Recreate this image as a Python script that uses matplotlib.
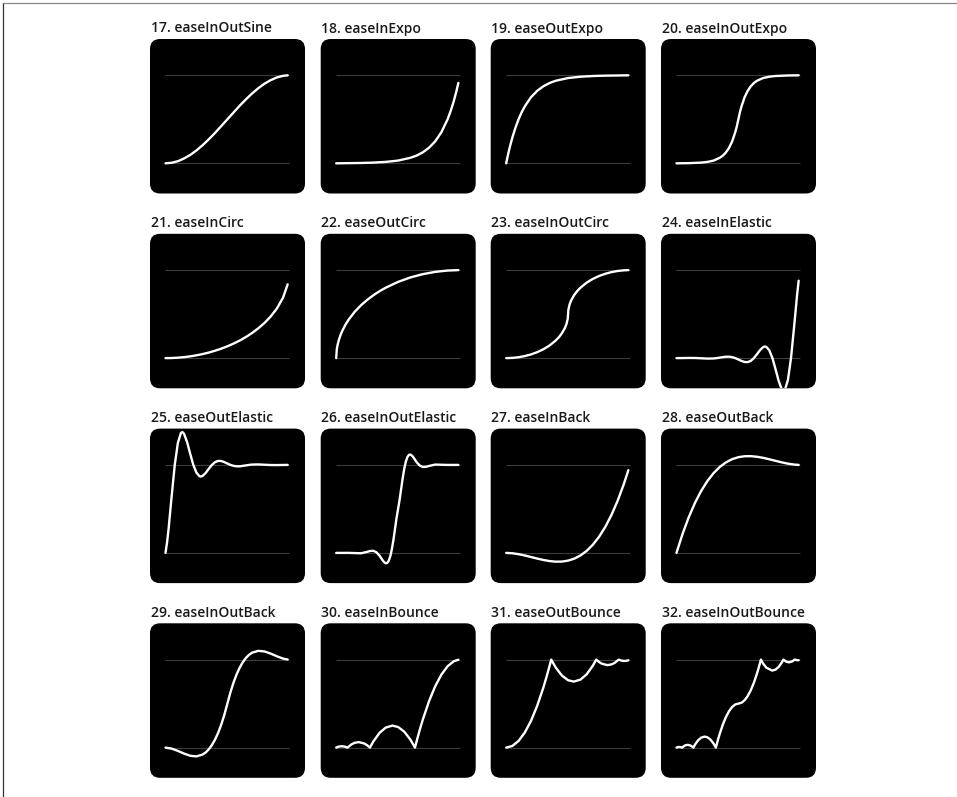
import matplotlib
matplotlib.use("Agg")
import matplotlib.pyplot as plt
from matplotlib.patches import FancyBboxPatch
from matplotlib.lines import Line2D

# panel titles, in reading order
titles = ["17. easeInOutSine", "18. easeInExpo", "19. easeOutExpo", "20. easeInOutExpo",
          "21. easeInCirc", "22. easeOutCirc", "23. easeInOutCirc", "24. easeInElastic",
          "25. easeOutElastic", "26. easeInOutElastic", "27. easeInBack", "28. easeOutBack",
          "29. easeInOutBack", "30. easeInBounce", "31. easeOutBounce", "32. easeInOutBounce"]

t_inoutsine = [0, .05, .1, .15, .2, .25, .3, .35, .4, .45, .5, .55, .6, .65, .7, .75, .8, .85, .9, .95, .987]
y_inoutsine = [0, .006, .024, .055, .095, .146, .206, .273, .345, .422, .5, .578, .655, .727, .794, .854, .905, .945, .976, .994, 1.0]

t_inexpo = [0, .1, .2, .3, .4, .5, .6, .65, .7, .75, .8, .85, .9, .925, .95, .97, .987]
y_inexpo = [0, .002, .004, .008, .016, .031, .063, .088, .125, .177, .25, .354, .5, .595, .707, .812, .914]

t_outexpo = [0, .015, .03, .05, .075, .1, .125, .15, .2, .25, .3, .35, .4, .5, .6, .7, .8, .9, .987]
y_outexpo = [0, .099, .188, .293, .405, .5, .58, .646, .75, .823, .875, .912, .938, .969, .984, .992, .996, .998, 1.0]

t_inoutexpo = [0, .1, .2, .25, .3, .35, .375, .4, .425, .45, .475, .4875, .5, .5125, .525, .55, .575, .6, .625, .65, .7, .75, .8, .9, .987]
y_inoutexpo = [0, .002, .008, .016, .031, .063, .088, .125, .177, .25, .354, .42, .5, .58, .646, .75, .823, .875, .912, .938, .969, .984, .992, .998, 1.0]

t_incirc = [0, .05, .1, .15, .2, .25, .3, .35, .4, .45, .5, .55, .6, .65, .7, .75, .8, .85, .9, .95, .987]
y_incirc = [0, .001, .005, .011, .02, .032, .046, .063, .084, .107, .134, .165, .2, .24, .286, .339, .4, .473, .564, .688, .839]

t_outcirc = [0, .005, .01, .02, .035, .05, .075, .1, .15, .2, .25, .3, .35, .4, .5, .6, .7, .8, .9, .987]
y_outcirc = [0, .1, .141, .199, .262, .312, .38, .436, .527, .6, .661, .714, .76, .8, .866, .917, .954, .98, .995, 1.0]

t_inoutcirc = [0, .05, .1, .15, .2, .25, .3, .35, .4, .425, .45, .475, .4875, .4975, .5, .5025, .5125, .525, .55, .575, .6, .65, .7, .75, .8, .85, .9, .95, .987]
y_inoutcirc = [0, .0025, .0101, .023, .0418, .067, .1, .143, .2, .236, .282, .344, .389, .45, .5, .55, .611, .656, .718, .764, .8, .857, .9, .933, .958, .977, .99, .9975, 1.0]

t_inelastic = [0, .05, .1, .15, .2, .25, .3, .325, .35, .375, .4, .425, .45, .475, .5, .525, .55, .575, .6, .625, .65, .675, .7, .7125, .725, .75, .775, .8, .825, .85, .8625, .875, .9, .925, .95, .975, .987]
y_inelastic = [0, .0007, .002, .0014, -.002, -.0055, -.0039, 0, .0055, .0114, .0156, .0161, .011, 0, -.0156, -.0322, -.0442, -.0455, -.0313, 0, .0442, .091, .125, .1317, .1288, .0884, 0, -.125, -.2575, -.3536, -.3725, -.3641, -.25, 0, .3536, .7282, .88]

t_outelastic = [0, .013, .025, .05, .075, .1, .125, .1375, .15, .175, .2, .225, .25, .275, .2875, .3, .325, .35, .375, .4, .425, .45, .475, .5, .525, .55, .575, .6, .625, .65, .675, .7, .75, .8, .85, .9, .95, .987]
y_outelastic = [0, .12, .272, .646, 1.0, 1.25, 1.364, 1.3725, 1.354, 1.2575, 1.125, 1.0, .912, .871, .868, .875, .909, .956, 1.0, 1.031, 1.0455, 1.0442, 1.032, 1.0156, 1.0, .989, .984, .984, .989, .9945, 1.0, 1.0039, 1.0055, 1.002, .9986, .998, .9993, 1.0]

t_inoutelastic = [0, .1, .2, .25, .275, .3, .325, .35, .375, .3875, .4, .4125, .425, .4375, .45, .4625, .475, .4875, .5, .5125, .525, .5375, .55, .5625, .575, .5875, .6, .6125, .625, .65, .675, .7, .725, .75, .8, .9, .987]
y_inoutelastic = [0, .0003, -.0039, .012, .0221, .0239, .0077, -.0313, -.0831, -.1051, -.1175, -.1139, -.0884, -.0365, .0434, .1487, .2708, .3951, .5, .6049, .7292, .8513, .9566, 1.0365, 1.0884, 1.1139, 1.1175, 1.1051, 1.0831, 1.0313, .9923, .9761, .9779, .988, 1.0039, .9997, 1.0]

t_inback = [0, .05, .1, .15, .2, .25, .3, .35, .4, .45, .5, .55, .6, .65, .7, .75, .8, .85, .9, .95, .987]
y_inback = [0, -.0039, -.0143, -.0292, -.0465, -.0641, -.0802, -.0926, -.0994, -.0984, -.0877, -.0653, -.029, .023, .0929, .1826, .2942, .4297, .5912, .7806, .94]

t_outback = [0, .05, .1, .15, .2, .25, .3, .35, .4, .45, .5, .55, .6, .65, .7, .75, .8, .85, .9, .95, .987]
y_outback = [0, .2194, .4088, .5703, .7058, .8174, .9071, .977, 1.029, 1.0653, 1.0877, 1.0984, 1.0994, 1.0926, 1.0802, 1.0641, 1.0465, 1.0292, 1.0143, 1.0039, 1.0003]

t_inoutback = [0, .05, .1, .15, .2, .25, .3, .325, .35, .375, .4, .425, .45, .475, .5, .525, .55, .575, .6, .625, .65, .675, .7, .75, .8, .85, .9, .95, .987]
y_inoutback = [0, -.0112, -.0375, -.0682, -.0926, -.0997, -.0788, -.0546, -.0192, .0285, .0899, .1664, .2594, .3701, .5, .6299, .7406, .8336, .9101, .9715, 1.0192, 1.0546, 1.0788, 1.0997, 1.0926, 1.0682, 1.0375, 1.0112, 1.0008]

t_inbounce = [0, .013, .025, .0455, .07, .0909, .125, .15, .1818, .2273, .25, .2727, .3, .35, .4, .4545, .5, .55, .6, .6364, .65, .675, .7, .75, .8, .85, .9, .95, .987]
y_inbounce = [0, .0077, .0125, .0156, .0111, 0, .0381, .0548, .0625, .0469, .0273, 0, .0694, .1673, .2275, .25, .2344, .1811, .09, 0, .0736, .2012, .3194, .5273, .6975, .8298, .9244, .9811, .9987]

t_outbounce = [0, .05, .1, .15, .2, .25, .3, .325, .35, .3636, .4, .45, .5, .5455, .6, .65, .7, .7273, .75, .7727, .8182, .85, .875, .9091, .93, .9545, .975, .987]
y_outbounce = [0, .0189, .0756, .1702, .3025, .4727, .6806, .7988, .9264, 1.0, .91, .8189, .7656, .75, .7725, .8327, .9306, 1.0, .9727, .9531, .9375, .9452, .9619, 1.0, .9889, .9844, .9875, .9923]

t_inoutbounce = [0, .0125, .0227, .035, .0455, .0625, .075, .0909, .1136, .125, .1364, .15, .175, .2, .2273, .25, .275, .3, .3182, .325, .3375, .35, .375, .4, .425, .45, .475, .5,
                 .525, .55, .575, .6, .625, .65, .6625, .675, .6818, .7, .725, .7727, .8, .825, .85, .8636, .8864, .9091, .9375, .9545, .9773, .987]
y_inoutbounce = [0, .0063, .0078, .0056, 0, .0191, .0274, .0313, .0234, .0137, 0, .0347, .0837, .1138, .125, .1172, .0906, .045, 0, .0368, .1006, .1597, .2637, .3488, .4149, .4622, .4906, .5,
                 .5095, .5378, .5851, .6513, .7364, .8403, .8994, .9632, 1.0, .955, .9095, .875, .8863, .9164, .9653, 1.0, .9766, .9688, .981, 1.0, .9922, .9936]

curves = [(t_inoutsine, y_inoutsine), (t_inexpo, y_inexpo), (t_outexpo, y_outexpo), (t_inoutexpo, y_inoutexpo),
          (t_incirc, y_incirc), (t_outcirc, y_outcirc), (t_inoutcirc, y_inoutcirc), (t_inelastic, y_inelastic),
          (t_outelastic, y_outelastic), (t_inoutelastic, y_inoutelastic), (t_inback, y_inback), (t_outback, y_outback),
          (t_inoutback, y_inoutback), (t_inbounce, y_inbounce), (t_outbounce, y_outbounce), (t_inoutbounce, y_inoutbounce)]

# layout, in pixels of the 957x797 picture
W, H = 957, 797
col_left = [150, 320.7, 490.7, 661]
row_top = [39, 233.8, 428.6, 623.3]
pw, ph = 155, 154.5

fig = plt.figure(figsize=(W / 100, H / 100), dpi=100)
fig.patch.set_facecolor("white")

# thin frame on the left and top edges
fig.add_artist(Line2D([2.5 / W, 2.5 / W], [0, 1 - 3 / H], color="#333333", lw=0.9))
fig.add_artist(Line2D([2.5 / W, 1], [1 - 3 / H, 1 - 3 / H], color="#888888", lw=0.9))

for i, (title, (t, y)) in enumerate(zip(titles, curves)):
    r, c = divmod(i, 4)
    x0 = col_left[c]
    y0 = row_top[r]
    ax = fig.add_axes([x0 / W, 1 - (y0 + ph) / H, pw / W, ph / H])
    ax.set_xlim(-0.125, 1.127)
    ax.set_ylim(-0.343, 1.4125)
    ax.axis("off")

    box = FancyBboxPatch((0, 0), 1, 1, boxstyle="round,pad=0,rounding_size=0.065",
                         transform=ax.transAxes, fc="black", ec="none", clip_on=False, zorder=0)
    ax.add_patch(box)

    ax.hlines([0, 1], 0, 1, colors="#3c3c3c", lw=0.8, zorder=1)
    line, = ax.plot(t, y, color="white", lw=1.7, solid_capstyle="round",
                    solid_joinstyle="round", zorder=2)
    line.set_clip_path(box)

    fig.text((x0 + 0.7) / W, 1 - (y0 - 6.5) / H, title, ha="left", va="baseline",
             fontsize=10, fontweight="semibold", family=["Open Sans", "DejaVu Sans"], color="#1a1a1a")

fig.savefig("out.png", dpi=100, facecolor="white")
